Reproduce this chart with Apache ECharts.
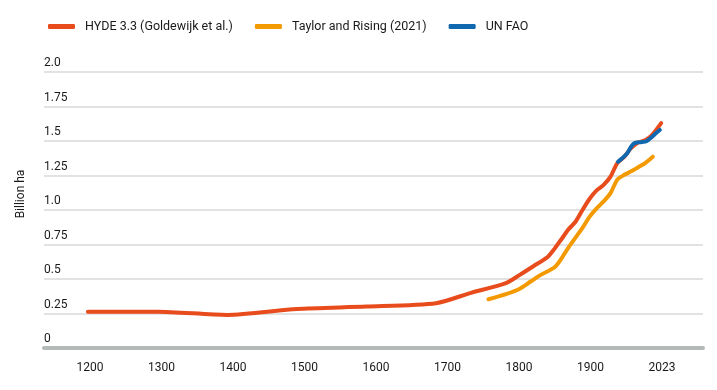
<!DOCTYPE html>
<html>
<head>
<meta charset="utf-8">
<script src="https://cdn.jsdelivr.net/npm/echarts@6/dist/echarts.min.js"></script>
<style>
html,body{margin:0;padding:0;background:#fff;}
#chart{width:717px;height:390px;}
</style>
</head>
<body>
<div id="chart"></div>
<script>
// ---- data ----
const hydeYears  = [1200, 1300, 1400, 1500, 1600, 1700, 1750, 1800, 1820, 1840, 1860, 1870, 1880, 1890, 1900, 1910, 1920, 1930, 1940, 1950, 1960, 1970, 1980, 1990, 2000, 2010, 2023];
const hydeValues = [0.263, 0.263, 0.240, 0.283, 0.300, 0.325, 0.400, 0.470, 0.530, 0.594, 0.660, 0.720, 0.790, 0.860, 0.915, 1.000, 1.080, 1.140, 1.180, 1.240, 1.340, 1.385, 1.450, 1.490, 1.505, 1.545, 1.630];

const taylorYears  = [1775, 1800, 1820, 1835, 1850, 1870, 1880, 1890, 1900, 1910, 1920, 1930, 1940, 1950, 1960, 1970, 1980, 1990, 2000, 2011];
const taylorValues = [0.353, 0.390, 0.430, 0.480, 0.530, 0.585, 0.650, 0.730, 0.800, 0.870, 0.950, 1.010, 1.060, 1.120, 1.220, 1.255, 1.280, 1.310, 1.340, 1.386];

const faoYears  = [1961, 1967, 1974, 1980, 1985, 1990, 2000, 2005, 2010, 2015, 2021];
const faoValues = [1.350, 1.375, 1.410, 1.460, 1.485, 1.490, 1.495, 1.510, 1.530, 1.555, 1.580];

const seriesNames = ['HYDE 3.3 (Goldewijk et al.)', 'Taylor and Rising (2021)', 'UN FAO'];
const xTickLabels = ['1200', '1300', '1400', '1500', '1600', '1700', '1800', '1900', '2023'];
const yTickLabels = ['0', '0.25', '0.5', '0.75', '1.0', '1.25', '1.5', '1.75', '2.0'];
const yAxisTitle = 'Billion ha';

// ---- build ----
const pairs = (xs, ys) => xs.map((x, i) => [x, ys[i]]);
const colors = ['#E84B1C', '#F39A00', '#1068B0'];
const FONT = 'Roboto';

const chart = echarts.init(document.getElementById('chart'), null, {renderer: 'canvas'});
const lineStyle = c => ({color: c, width: 4, cap: 'round', join: 'round'});

chart.setOption({
  animation: false,
  color: colors,
  textStyle: {fontFamily: FONT},
  legend: {
    left: 43, top: 15,
    icon: 'roundRect',
    itemWidth: 27, itemHeight: 5,
    itemGap: 22,
    textStyle: {fontFamily: FONT, fontSize: 12.5, color: '#1a1a1a', padding: [0, 0, 0, 5]},
    data: seriesNames
  },
  grid: {left: 44, right: 14, top: 72, bottom: 42, containLabel: false},
  xAxis: [
    {
      type: 'value', min: 1137, max: 2083, show: false
    },
    {
      type: 'value', position: 'bottom',
      min: -0.643, max: 8.573,
      axisLine: {show: true, lineStyle: {color: '#B3BAB7', width: 4}},
      axisTick: {show: false},
      splitLine: {show: false},
      axisLabel: {
        customValues: xTickLabels.map((_, i) => i),
        formatter: v => xTickLabels[Math.round(v)] || '',
        margin: 14,
        fontFamily: FONT, fontSize: 12, color: '#1a1a1a'
      }
    }
  ],
  yAxis: {
    type: 'value', min: 0, max: 2, interval: 0.25,
    name: yAxisTitle,
    nameLocation: 'middle',
    nameGap: 17,
    nameTextStyle: {fontFamily: FONT, fontSize: 12, color: '#1a1a1a', padding: [0, 0, 0, 32]},
    axisLine: {show: false},
    axisTick: {show: false},
    splitLine: {lineStyle: {color: '#D9D9D9', width: 1.5}},
    axisLabel: {
      inside: true, margin: 0, align: 'left', verticalAlign: 'bottom',
      padding: [0, 0, 3, 0],
      formatter: v => yTickLabels[Math.round(v / 0.25)],
      fontFamily: FONT, fontSize: 12, color: '#1a1a1a'
    }
  },
  series: [
    {name: seriesNames[0], type: 'line', xAxisIndex: 0, data: pairs(hydeYears, hydeValues),
     showSymbol: false, symbol: 'none', smooth: 0.25, lineStyle: lineStyle(colors[0]), z: 2},
    {name: seriesNames[1], type: 'line', xAxisIndex: 0, data: pairs(taylorYears, taylorValues),
     showSymbol: false, symbol: 'none', smooth: 0.25, lineStyle: lineStyle(colors[1]), z: 2},
    {name: seriesNames[2], type: 'line', xAxisIndex: 0, data: pairs(faoYears, faoValues),
     showSymbol: false, symbol: 'none', smooth: 0.3, lineStyle: lineStyle(colors[2]), z: 3}
  ]
});
</script>
</body>
</html>
